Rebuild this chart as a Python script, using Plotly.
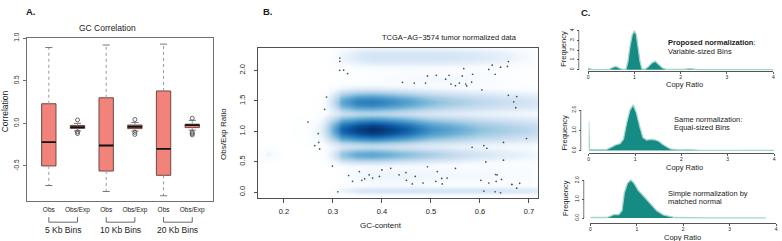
import numpy as np
import plotly.graph_objects as go

W, H = 782, 241
def px(v): return v / W
def py(v): return 1 - v / H

FONT = "Liberation Sans, Arial, sans-serif"
TXT = "#1a1a1a"

# ---------------- Panel A data: GC correlation boxplots ----------------
box_pos = [1, 2, 3, 4, 5, 6]
box_ticktext = ["Obs", "Obs/Exp", "Obs", "Obs/Exp", "Obs", "Obs/Exp"]
box_q1 = [-0.50, -0.060, -0.56, -0.062, -0.61, -0.050]
box_median = [-0.22, -0.045, -0.26, -0.040, -0.30, -0.020]
box_q3 = [0.23, -0.025, 0.30, -0.020, 0.38, -0.010]
box_lower = [-0.73, -0.090, -0.80, -0.090, -0.85, -0.080]
box_upper = [0.89, 0.000, 0.92, 0.010, 0.93, 0.035]
out_pos = [2, 2, 2, 4, 4, 4, 6, 6, 6, 6]
out_val = [0.040, -0.100, -0.120, 0.045, -0.105, -0.130, 0.060, -0.105, -0.120, -0.135]
group_labels = ["5 Kb Bins", "10 Kb Bins", "20 Kb Bins"]
group_centers = [1.5, 3.5, 5.5]

# ---------------- Panel B data: smoothed scatter ----------------
gc_pts = [0.314, 0.314, 0.314, 0.322, 0.330, 0.249, 0.287, 0.283, 0.270, 0.271,
          0.263, 0.273, 0.299, 0.310, 0.332, 0.354, 0.359, 0.374, 0.381, 0.395,
          0.400, 0.418, 0.435, 0.449, 0.450, 0.462, 0.468, 0.484, 0.493, 0.511,
          0.442, 0.466, 0.489, 0.530, 0.541, 0.550, 0.558, 0.564, 0.571, 0.585,
          0.604, 0.618, 0.625, 0.631, 0.642, 0.493, 0.513, 0.533, 0.550, 0.510,
          0.523, 0.584, 0.608, 0.614, 0.612, 0.608, 0.618, 0.633, 0.635, 0.631,
          0.642, 0.665, 0.658, 0.669, 0.673, 0.648, 0.648, 0.695, 0.522, 0.602,
          0.632, 0.644, 0.665, 0.675, 0.681, 0.658, 0.656, 0.583, 0.573, 0.537,
          0.567, 0.675, 0.340, 0.365]
ratio_pts = [2.203, 2.149, 2.000, 2.005, 1.947, 1.153, 1.563, 1.361, 0.962, 0.818,
             0.765, 0.711, 0.430, 0.008, 0.275, 0.339, 0.195, 0.286, 0.232, 0.259,
             0.366, 0.392, 0.286, 0.323, 0.195, 0.136, 0.259, 0.152, 1.909, 1.920,
             1.803, 1.792, 1.792, 1.856, 1.776, 1.749, 1.792, 1.909, 1.776, 1.936,
             1.680, 2.016, 2.085, 1.936, 2.053, 0.418, 0.339, 0.232, 0.392, 0.179,
             0.136, 0.738, 0.765, 0.722, 0.498, 0.019, 0.152, 0.179, 0.286, 0.008,
             -0.008, 0.126, 1.590, 1.484, 1.388, 0.818, 0.526, 0.882, 0.227, 0.195,
             0.291, 0.211, 0.131, 0.067, 0.147, 2.144, 2.064, 1.808, 1.744, 1.920,
             2.030, 1.570, 0.180, 0.220]

# density bands: centre ratio, spread, colour level along GC
band_gc = [0.14, 0.17, 0.20, 0.25, 0.28, 0.30, 0.32, 0.35, 0.38, 0.40, 0.45, 0.50, 0.55, 0.60, 0.65, 0.70, 0.72]
band_center = [1.02, 1.47, 0.61, 2.22, 0.02, 0.27, 1.85, 0.62]
band_spread = [0.090, 0.074, 0.054, 0.070, 0.030, 0.090, 0.070, 0.035]
band_level = [
    [0, 0, 0, 0.05, 0.22, 0.55, 0.82, 0.94, 1.00, 0.98, 0.85, 0.67, 0.58, 0.48, 0.42, 0.36, 0.33],
    [0, 0, 0, 0, 0.05, 0.30, 0.58, 0.72, 0.74, 0.72, 0.62, 0.50, 0.42, 0.36, 0.31, 0.27, 0.25],
    [0, 0, 0, 0, 0.05, 0.22, 0.46, 0.57, 0.59, 0.57, 0.49, 0.41, 0.33, 0.26, 0.21, 0.16, 0.13],
    [0, 0, 0, 0, 0, 0.05, 0.16, 0.23, 0.27, 0.27, 0.27, 0.27, 0.26, 0.23, 0.19, 0.11, 0.06],
    [0, 0, 0, 0, 0, 0.05, 0.16, 0.23, 0.26, 0.26, 0.26, 0.26, 0.26, 0.26, 0.24, 0.23, 0.21],
    [0, 0, 0, 0, 0, 0, 0.05, 0.13, 0.15, 0.15, 0.15, 0.14, 0.13, 0.13, 0.11, 0.09, 0.05],
    [0, 0, 0, 0, 0, 0, 0, 0.03, 0.05, 0.06, 0.11, 0.13, 0.13, 0.11, 0.06, 0.03, 0],
    [0, 0.16, 0, 0, 0, 0, 0, 0, 0, 0, 0, 0, 0, 0, 0, 0, 0],
]

# ---------------- Panel C data: copy-ratio densities ----------------
cr1_x = [0.0, 0.08, 0.23, 0.45, 0.52, 0.60, 0.68, 0.75, 0.82, 0.86, 0.90, 0.95, 1.00, 1.04,
         1.08, 1.12, 1.16, 1.22, 1.30, 1.38, 1.45, 1.52, 1.60, 1.68, 2.05, 2.20, 2.35, 3.0, 4.0]
cr1_y = [0.15, 0.02, 0.0, 0.02, 0.20, 0.33, 0.15, 0.02, 0.05, 0.80, 2.20, 3.50, 4.00, 3.60,
         2.30, 0.90, 0.10, 0.02, 0.30, 0.70, 0.85, 0.55, 0.20, 0.03, 0.02, 0.10, 0.02, 0.01, 0.01]
cr2_x = [0.0, 0.015, 0.20, 0.39, 0.50, 0.57, 0.68, 0.75, 0.82, 0.89, 0.96, 1.03, 1.10, 1.17,
         1.25, 1.35, 1.45, 1.52, 1.60, 1.76, 1.95, 2.15, 2.35, 3.0, 4.0]
cr2_y = [1.45, 0.05, 0.04, 0.06, 0.18, 0.27, 0.35, 0.56, 1.37, 2.00, 2.25, 1.85, 1.20, 0.64,
         0.52, 0.56, 0.52, 0.45, 0.30, 0.08, 0.03, 0.05, 0.02, 0.01, 0.01]
cr3_x = [0.0, 0.35, 0.43, 0.50, 0.61, 0.68, 0.73, 0.80, 0.87, 0.94, 1.03, 1.14, 1.29, 1.43,
         1.57, 1.82, 2.50, 3.78]
cr3_y = [0.03, 0.03, 0.10, 0.18, 0.18, 0.39, 1.34, 1.86, 2.03, 1.86, 1.48, 1.17, 0.73, 0.39,
         0.17, 0.03, 0.01, 0.01]
c_titles = [("<b>Proposed normalization</b>:", "Variable-sized Bins"),
            ("Same normalization:", "Equal-sized Bins"),
            ("Simple normalization by", "matched normal")]

fig = go.Figure()

# ---------------- Panel A traces ----------------
SALMON = "#F2837A"
EDGE = "#6e4844"
half = 0.25
wx, wy, cx, cy, mx, my = [], [], [], [], [], []
for p, q1, q3, lo, up, md in zip(box_pos, box_q1, box_q3, box_lower, box_upper, box_median):
    wx += [p, p, None, p, p, None]
    wy += [q3, up, None, q1, lo, None]
    cx += [p - half / 2, p + half / 2, None, p - half / 2, p + half / 2, None]
    cy += [up, up, None, lo, lo, None]
    mx += [p - half, p + half, None]
    my += [md, md, None]
fig.add_trace(go.Scatter(x=wx, y=wy, mode="lines", line=dict(color="#9a9a9a", width=1, dash="dot"),
                         xaxis="x", yaxis="y", hoverinfo="skip"))
fig.add_trace(go.Scatter(x=cx, y=cy, mode="lines", line=dict(color="#777", width=1),
                         xaxis="x", yaxis="y", hoverinfo="skip"))
fig.add_trace(go.Bar(x=box_pos, y=[b - a for a, b in zip(box_q1, box_q3)], base=box_q1, width=2 * half,
                     marker=dict(color=SALMON, line=dict(color=EDGE, width=1)), xaxis="x", yaxis="y"))
fig.add_trace(go.Scatter(x=mx, y=my, mode="lines", line=dict(color="#111", width=1.8),
                         xaxis="x", yaxis="y", hoverinfo="skip"))
fig.add_trace(go.Scatter(x=out_pos, y=out_val, mode="markers",
                         marker=dict(symbol="circle-open", size=4, color="#444", line=dict(width=0.8)),
                         xaxis="x", yaxis="y"))

# ---------------- Panel B traces ----------------
gx = np.linspace(0.14, 0.72, 300)
gy = np.linspace(-0.12, 2.40, 320)
dens = np.zeros((gy.size, gx.size))
for c, s, lev in zip(band_center, band_spread, band_level):
    lv = np.interp(gx, band_gc, lev)
    dens += (lv[None, :] ** 4) * np.exp(-0.5 * ((gy[:, None] - c) / s) ** 2)
level = np.clip(dens, 0, 1) ** 0.25
blues = ["#FFFFFF", "#F7FBFF", "#DEEBF7", "#C6DBEF", "#9ECAE1", "#6BAED6",
         "#4292C6", "#2171B5", "#08519C", "#08306B"]
cscale = [[i / 9, c] for i, c in enumerate(blues)]
fig.add_trace(go.Heatmap(x=gx, y=gy, z=level, colorscale=cscale, zmin=0, zmax=1,
                         showscale=False, xaxis="x2", yaxis="y2", hoverinfo="skip"))
fig.add_trace(go.Scatter(x=gc_pts, y=ratio_pts, mode="markers",
                         marker=dict(size=1.7, color="#4a4a4a"), xaxis="x2", yaxis="y2"))

# ---------------- Panel C traces ----------------
TEAL = "#168B83"
LIGHT = "#A3D5CE"
for i, (xs, ys) in enumerate([(cr1_x, cr1_y), (cr2_x, cr2_y), (cr3_x, cr3_y)]):
    fig.add_trace(go.Scatter(x=xs, y=ys, mode="lines", fill="tozeroy", fillcolor=TEAL,
                             line=dict(color=LIGHT, width=1.3), xaxis=f"x{i+3}", yaxis=f"y{i+3}"))

# ---------------- Layout ----------------
layout = dict(
    width=W, height=H, margin=dict(l=0, r=0, t=0, b=0),
    paper_bgcolor="white", plot_bgcolor="white", showlegend=False,
    font=dict(family=FONT, color=TXT), barmode="overlay",
    xaxis=dict(domain=[px(26), px(213)], range=[0.236, 6.73], anchor="y",
               showline=True, mirror=True, linecolor="#707070", linewidth=1,
               ticks="", tickmode="array", tickvals=box_pos, ticktext=box_ticktext,
               tickfont=dict(size=6.5, color=TXT), ticklabelstandoff=2, showgrid=False, zeroline=False),
    yaxis=dict(domain=[py(200), py(33)], range=[-0.912, 1.0], anchor="x",
               showline=True, mirror=True, linecolor="#707070", linewidth=1,
               ticks="outside", ticklen=3, tickcolor="#707070", tickmode="array",
               tickvals=[-0.5, 0, 0.5, 1.0], ticktext=["-0.5", "0.0", "0.5", "1.0"],
               tickangle=-90, tickfont=dict(size=6.5, color=TXT), ticklabelstandoff=1,
               showgrid=False, zeroline=False),
    xaxis2=dict(domain=[px(258), px(539)], range=[0.1472, 0.7183], anchor="y2",
                showline=True, mirror=True, linecolor="#505050", linewidth=1,
                ticks="outside", ticklen=4, tickcolor="#505050", tickmode="array",
                tickvals=[0.2, 0.3, 0.4, 0.5, 0.6, 0.7], ticktext=["0.2", "0.3", "0.4", "0.5", "0.6", "0.7"],
                tickfont=dict(size=7.5, color=TXT), ticklabelstandoff=2, showgrid=False, zeroline=False),
    yaxis2=dict(domain=[py(197), py(43)], range=[-0.096, 2.368], anchor="x2",
                showline=True, mirror=True, linecolor="#505050", linewidth=1,
                ticks="outside", ticklen=3, tickcolor="#505050", tickmode="array",
                tickvals=[0, 0.5, 1.0, 1.5, 2.0], ticktext=["0.0", "0.5", "1.0", "1.5", "2.0"],
                tickangle=-90, tickfont=dict(size=7.5, color=TXT), ticklabelstandoff=6,
                showgrid=False, zeroline=False),
)

c_geom = [
    dict(x0=589.3, x1=775.3, zero=65.3, unit=10.0, axis=67.0, top=20, yx=580, ytop=4,
         tv=[0, 1, 2, 3, 4], tt=["0", "1", "2", "3", "4"]),
    dict(x0=590.0, x1=776.0, zero=148.3, unit=20.8, axis=151.0, top=98, yx=582, ytop=2,
         tv=[0, 1, 2], tt=["0.0", "1.0", "2.0"]),
    dict(x0=591.7, x1=778.0, zero=217.5, unit=19.25, axis=222.5, top=170, yx=585, ytop=2,
         tv=[0, 1, 2], tt=["0.0", "1.0", "2.0"]),
]
shapes = []
for i, g in enumerate(c_geom):
    n = i + 3
    ymin = -(g["axis"] - g["zero"]) / g["unit"]
    ymax = (g["zero"] - g["top"]) / g["unit"]
    layout[f"xaxis{n}"] = dict(domain=[px(g["x0"]), px(g["x1"])], range=[0, 4], anchor=f"y{n}",
                               showline=True, linecolor="#555", linewidth=0.8,
                               ticks="outside", ticklen=2, tickcolor="#555", tickmode="array",
                               tickvals=[0, 1, 2, 3, 4], ticktext=["0", "1", "2", "3", "4"],
                               tickfont=dict(size=5, color=TXT), ticklabelstandoff=-1,
                               showgrid=False, zeroline=False)
    layout[f"yaxis{n}"] = dict(domain=[py(g["axis"]), py(g["top"])], range=[ymin, ymax],
                               anchor="free", position=px(g["yx"]), showline=False,
                               ticks="outside", ticklen=2, tickcolor="#555", tickmode="array",
                               tickvals=g["tv"], ticktext=g["tt"], tickangle=-90,
                               tickfont=dict(size=5, color=TXT), ticklabelstandoff=1,
                               showgrid=False, zeroline=False)
    shapes.append(dict(type="line", xref="paper", yref=f"y{n}", x0=px(g["yx"]), x1=px(g["yx"]),
                       y0=0, y1=g["ytop"], line=dict(color="#555", width=0.8)))

# brackets under the boxplot groups
for c in group_centers:
    shapes.append(dict(type="path", xref="x", yref="paper",
                       path=f"M {c-0.5} {py(216.5)} L {c-0.5} {py(221.7)} L {c+0.5} {py(221.7)} L {c+0.5} {py(216.5)}",
                       line=dict(color="#444", width=0.8)))
layout["shapes"] = shapes

ann = []
def add(text, x, y, size, angle=0, xanchor="center", xref="paper"):
    ann.append(dict(text=text, x=(x if xref != "paper" else px(x)), y=py(y), xref=xref, yref="paper",
                    showarrow=False, font=dict(size=size, color=TXT, family=FONT),
                    textangle=angle, xanchor=xanchor, yanchor="middle"))

add("<b>A.</b>", 30, 6, 9.5)
add("<b>B.</b>", 268, 6, 9.5)
add("<b>C.</b>", 587, 6.5, 9.5)
add("GC Correlation", 107, 23, 8.5)
add("Correlation", 4, 108, 8.5, angle=-90)
for lab, c in zip(group_labels, group_centers):
    add(lab, c, 229.5, 8.5, xref="x")
add("TCGA\u2212AG\u22123574 tumor normalized data", 450, 32, 7.5)
add("GC-content", 381, 225, 8)
add("Obs/Exp Ratio", 224, 131, 8, angle=-90)

add(c_titles[0][0], 668, 37, 7.5, xanchor="left")
add(c_titles[0][1], 668, 47, 7.5, xanchor="left")
add("Copy Ratio", 686, 81, 7.5)
add("Frequency", 565, 44, 7.5, angle=-90)

add(c_titles[1][0], 674, 116, 7.5, xanchor="left")
add(c_titles[1][1], 674, 125, 7.5, xanchor="left")
add("Copy Ratio", 686, 165.5, 7.5)
add("Frequency", 566, 130, 7.5, angle=-90)

add(c_titles[2][0], 668, 192, 7.5, xanchor="left")
add(c_titles[2][1], 668, 201, 7.5, xanchor="left")
add("Copy Ratio", 684.5, 237, 7.5)
add("Frequency", 566, 197, 7.5, angle=-90)
layout["annotations"] = ann

fig.update_layout(**layout)
fig.write_html("out.html", config={"displayModeBar": False},
               post_script="document.body.style.margin='0px';document.body.style.overflow='hidden';")
